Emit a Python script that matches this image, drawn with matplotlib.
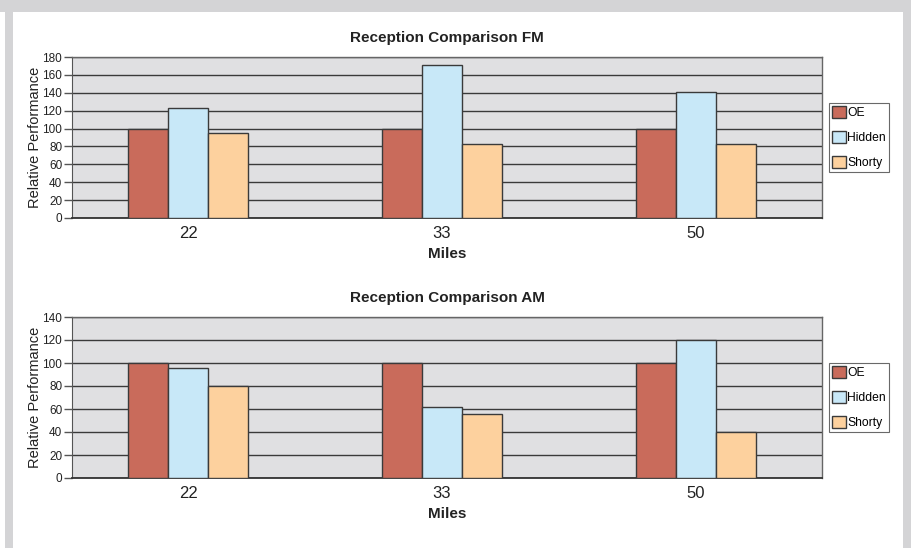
import numpy as np
import matplotlib
matplotlib.use("Agg")
import matplotlib.pyplot as plt
from matplotlib.patches import Rectangle

# ============== data
miles = ["22", "33", "50"]
series = ["OE", "Hidden", "Shorty"]
fm_oe = [100, 100, 100]
fm_hidden = [123, 171, 141]
fm_shorty = [95, 83, 83]
am_oe = [100, 100, 100]
am_hidden = [96, 62, 120]
am_shorty = [80, 56, 40]

colors = ["#c96b5b", "#c8e8f8", "#fdd19e"]
sans = ["Liberation Sans", "DejaVu Sans"]
plt.rcParams["font.family"] = sans

W, H = 912, 548
fig = plt.figure(figsize=(W / 100, H / 100), dpi=100)
fig.patch.set_facecolor("white")

# gray frame round the white panel
fig.patches.append(Rectangle((5 / W, 0), 8 / W, 1, transform=fig.transFigure,
                             facecolor="#d4d4d6", edgecolor="none", zorder=-10))
fig.patches.append(Rectangle((0, (H - 12) / H), 1, 12 / H, transform=fig.transFigure,
                             facecolor="#d4d4d6", edgecolor="none", zorder=-10))
fig.patches.append(Rectangle((903 / W, 0), 9 / W, 1, transform=fig.transFigure,
                             facecolor="#d4d4d6", edgecolor="none", zorder=-10))


def draw_panel(top_px, title, values, ymax):
    ax = fig.add_axes([72 / W, (H - top_px - 161) / H, 750 / W, 161 / H])
    ax.set_facecolor("#e0e0e2")
    x = np.arange(len(miles))
    width = 0.157
    for i, (vals, name) in enumerate(zip(values, series)):
        ax.bar(x + (i - 1) * width, vals, width, color=colors[i], edgecolor="#3a3a3a",
               linewidth=1.0, label=name, zorder=3)
    ax.set_xlim(-0.457, 2.496)
    ax.set_ylim(0, ymax)
    ax.set_yticks(np.arange(0, ymax + 1, 20))
    ax.yaxis.grid(True, color="#3a3a3a", linewidth=1.0, zorder=1)
    ax.set_axisbelow(True)
    ax.set_xticks(x)
    ax.set_xticklabels(miles, fontsize=12, color="#222222")
    ax.tick_params(axis="x", length=0, pad=6)
    ax.tick_params(axis="y", length=6, width=1.0, color="#555555", pad=1,
                   labelsize=8.5, labelcolor="#222222")
    for side in ["top", "right"]:
        ax.spines[side].set_color("#666666")
        ax.spines[side].set_linewidth(1.0)
    ax.spines["left"].set_color("#555555")
    ax.spines["bottom"].set_color("#333333")
    ax.spines["bottom"].set_linewidth(1.3)
    ax.set_title(title, fontsize=11, fontweight="bold", pad=11, color="#222222")
    ax.set_xlabel("Miles", fontsize=11, fontweight="bold", labelpad=4, color="#222222")
    ax.set_ylabel("Relative Performance", fontsize=10.5, labelpad=0, color="#222222")
    leg = ax.legend(loc="center left", bbox_to_anchor=(1 + 7 / 750, 0.5),
                    frameon=True, fancybox=False, handlelength=1.15, handleheight=1.15,
                    handletextpad=0.12, labelspacing=0.95, borderpad=0.25,
                    borderaxespad=0, prop={"size": 8.7})
    leg.get_frame().set_edgecolor("#444444")
    leg.get_frame().set_linewidth(0.8)
    return ax


draw_panel(57, "Reception Comparison FM", [fm_oe, fm_hidden, fm_shorty], 180)
draw_panel(317, "Reception Comparison AM", [am_oe, am_hidden, am_shorty], 140)

fig.savefig("out.png", dpi=100)
